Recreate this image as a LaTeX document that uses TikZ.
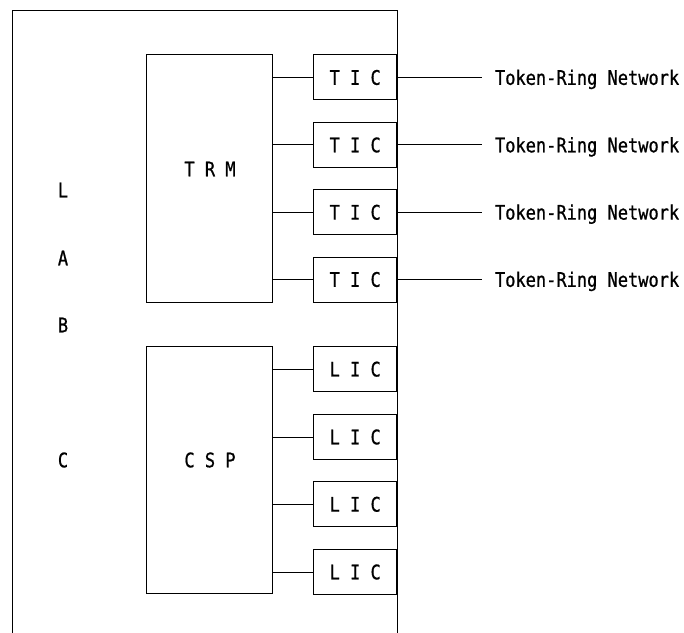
\documentclass[tikz,border=0pt]{standalone}
\usepackage{fontspec}
\newfontfamily\ibmfont[FakeStretch=0.85, FakeBold=0.8]{DejaVu Sans Mono}
\usetikzlibrary{positioning}

\tikzset{
	card/.style={draw, line width=1bp, minimum width=83bp, minimum height=45bp, inner sep=0pt},
	module/.style={draw, line width=1bp, minimum width=126bp, minimum height=247bp, inner sep=0pt},
	net/.style={anchor=west, inner xsep=12.5bp, inner ysep=0pt, text height=14.6bp, text depth=0pt},
	lbl/.style={inner sep=0pt}
}

\begin{document}
\begin{tikzpicture}[x=1bp, y=-1bp, line width=1bp, font=\ibmfont\fontsize{20bp}{24bp}\selectfont]
			%%%%% START %%%%%
			
			\useasboundingbox (0, 0) rectangle (684, 633);
			
			\draw (12, 633) -- (12, 11) -- (397, 11) -- (397, 633);
			
			\node[module] (trm) at (209.7, 178.5) {};
			\node[module] (csp) at (209.7, 470.3) {};
			\node[lbl] (trmtxt) at (210, 169) {T R M};
			\node[lbl] (csptxt) at (210, 460) {C S P};
			
			\node[lbl] (l) at (63, 190) {L};
			\node[lbl] (a) at (63, 258) {A};
			\node[lbl] (b) at (63, 325) {B};
			\node[lbl] (c) at (63, 460) {C};
			
			\node[card] (tic1) at (355.2, 77.5) {T I C};
			\node[card] (tic2) at (355.2, 145) {T I C};
			\node[card] (tic3) at (355.2, 212.3) {T I C};
			\node[card] (tic4) at (355.2, 279.5) {T I C};
			
			\node[card] (lic1) at (355.2, 369.2) {L I C};
			\node[card] (lic2) at (355.2, 437) {L I C};
			\node[card] (lic3) at (355.2, 504.3) {L I C};
			\node[card] (lic4) at (355.2, 572) {L I C};
			
			\draw (trm.east |- tic1.west) -- (tic1.west);
			\draw (trm.east |- tic2.west) -- (tic2.west);
			\draw (trm.east |- tic3.west) -- (tic3.west);
			\draw (trm.east |- tic4.west) -- (tic4.west);
			
			\draw (csp.east |- lic1.west) -- (lic1.west);
			\draw (csp.east |- lic2.west) -- (lic2.west);
			\draw (csp.east |- lic3.west) -- (lic3.west);
			\draw (csp.east |- lic4.west) -- (lic4.west);
			
			\node[net] (net1) at (482, 77.5) {Token-Ring Network};
			\node[net] (net2) at (482, 145) {Token-Ring Network};
			\node[net] (net3) at (482, 212.3) {Token-Ring Network};
			\node[net] (net4) at (482, 279.5) {Token-Ring Network};
			
			\draw (tic1.east) -- (net1.west);
			\draw (tic2.east) -- (net2.west);
			\draw (tic3.east) -- (net3.west);
			\draw (tic4.east) -- (net4.west);
			
			%%%%% END %%%%%
		\end{tikzpicture}
\end{document}
